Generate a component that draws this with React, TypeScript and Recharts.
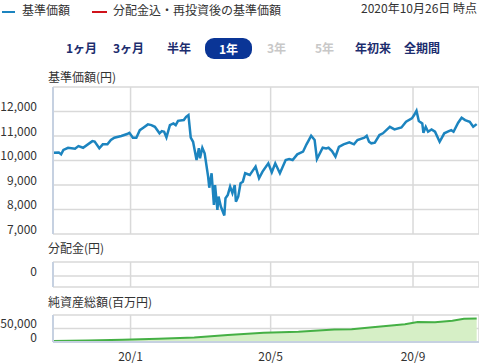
import { LineChart, Line, BarChart, Bar, AreaChart, Area, XAxis, YAxis, CartesianGrid } from 'recharts'

// 基準価額 (円)
const priceDates = [
  '2019-10-26', '2019-10-31', '2019-11-02', '2019-11-04', '2019-11-08', '2019-11-14', '2019-11-17', '2019-11-21',
  '2019-11-29', '2019-12-01', '2019-12-05', '2019-12-08', '2019-12-12', '2019-12-15', '2019-12-18', '2019-12-24',
  '2019-12-29', '2019-12-31', '2020-01-03', '2020-01-06', '2020-01-09', '2020-01-12', '2020-01-16', '2020-01-19',
  '2020-01-22', '2020-01-26', '2020-01-28', '2020-01-30', '2020-02-01', '2020-02-04', '2020-02-07', '2020-02-09',
  '2020-02-11', '2020-02-16', '2020-02-18', '2020-02-20', '2020-02-22', '2020-02-24', '2020-02-27', '2020-02-29',
  '2020-03-01', '2020-03-03', '2020-03-05', '2020-03-08', '2020-03-09', '2020-03-11', '2020-03-13', '2020-03-14',
  '2020-03-16', '2020-03-17', '2020-03-19', '2020-03-22', '2020-03-23', '2020-03-25', '2020-03-27', '2020-03-29',
  '2020-03-31', '2020-04-01', '2020-04-03', '2020-04-05', '2020-04-07', '2020-04-09', '2020-04-13', '2020-04-15',
  '2020-04-18', '2020-04-21', '2020-04-24', '2020-04-29', '2020-05-02', '2020-05-05', '2020-05-09', '2020-05-14',
  '2020-05-17', '2020-05-20', '2020-05-24', '2020-05-29', '2020-06-01', '2020-06-03', '2020-06-05', '2020-06-08',
  '2020-06-10', '2020-06-15', '2020-06-18', '2020-06-20', '2020-06-23', '2020-06-26', '2020-06-29', '2020-07-03',
  '2020-07-08', '2020-07-12', '2020-07-15', '2020-07-21', '2020-07-23', '2020-07-25', '2020-07-27', '2020-07-30',
  '2020-08-03', '2020-08-06', '2020-08-12', '2020-08-16', '2020-08-22', '2020-08-26', '2020-08-31', '2020-09-02',
  '2020-09-04', '2020-09-06', '2020-09-09', '2020-09-10', '2020-09-12', '2020-09-14', '2020-09-17', '2020-09-20',
  '2020-09-24', '2020-09-28', '2020-10-01', '2020-10-04', '2020-10-06', '2020-10-10', '2020-10-13', '2020-10-16',
  '2020-10-20', '2020-10-23', '2020-10-26',
]
const priceValues = [
  10320, 10330, 10250, 10430, 10520, 10480, 10590, 10520,
  10790, 10770, 10500, 10660, 10660, 10835, 10930, 11000,
  11080, 11130, 10930, 10930, 11240, 11340, 11475, 11445,
  11375, 11110, 11200, 11175, 10945, 11445, 11515, 11445,
  11620, 11650, 11785, 11855, 10930, 10765, 10020, 10500,
  10090, 10520, 10295, 9340, 8890, 9480, 8190, 9000,
  7985, 8525, 8120, 7755, 8460, 8595, 8935, 8665,
  9000, 8320, 8525, 9070, 9135, 9480, 9410, 9545,
  9750, 9275, 9545, 9885, 9520, 9885, 9480, 10020,
  10060, 10020, 10250, 10360, 10660, 10835, 11010, 10835,
  10060, 10520, 10495, 10520, 10385, 10155, 10560, 10660,
  10740, 10660, 10835, 10930, 11010, 10765, 10700, 10725,
  11040, 11110, 11375, 11270, 11350, 11580, 11720, 11855,
  12030, 11610, 11515, 11130, 11375, 11175, 11270, 11175,
  10765, 11110, 11175, 11240, 11175, 11540, 11745, 11650,
  11580, 11375, 11485,
]

// 分配金 (円)
const distDates = ['2019-10-26', '2020-10-26']
const distValues = [0, 0]

// 純資産総額 (百万円)
const assetDates = [
  '2019-10-26', '2019-11-25', '2019-12-25', '2020-01-25', '2020-02-25', '2020-03-25', '2020-04-25', '2020-05-25',
  '2020-06-25', '2020-07-10', '2020-07-28', '2020-08-25', '2020-09-05', '2020-09-20', '2020-10-05', '2020-10-15',
  '2020-10-26',
]
const assetValues = [
  4000, 5500, 8500, 12000, 17000, 26000, 34000, 38000,
  46000, 47000, 55000, 66000, 74000, 73000, 79000, 86000,
  87000,
]

const rangeStart = '2019-10-26'
const rangeEnd = '2020-10-28'
const monthTicks = ['2020-01-01', '2020-05-01', '2020-09-01']
const monthLabels = ['20/1', '20/5', '20/9']
const priceTicks = [7000, 8000, 9000, 10000, 11000, 12000, 13000]
const assetTicks = [0, 50000, 100000]
const periodLabels = ['1ヶ月', '3ヶ月', '半年', '1年', '3年', '5年', '年初来', '全期間']
const activePeriod = '1年'
const disabledPeriods = ['3年', '5年']

const FONT = '"Noto Sans CJK JP", "Noto Sans", sans-serif'
const GRID = '#d9d9d9'
const AXIS = '#c6d1e1'
const BLUE = '#1c84bf'
const periodX = [66, 113, 167, 205, 267, 315, 355, 404]

const ts = (s: string) => new Date(s + 'T00:00:00Z').getTime()
const domainX = [ts(rangeStart), ts(rangeEnd)]
const monthTs = monthTicks.map(ts)

const priceRows = priceDates.map((d, i) => ({ t: ts(d), v: priceValues[i] }))
const distRows = distDates.map((d, i) => ({ t: ts(d), v: distValues[i] }))
const assetRows = assetDates.map((d, i) => ({ t: ts(d), v: assetValues[i] }))

function ShiftTick(props: any) {
  const { x, y, payload, hideAbove } = props
  if (hideAbove !== undefined && payload.value > hideAbove) return <g />
  return (
    <text x={x} y={y - 6} textAnchor="end" dominantBaseline="central" fontSize={12} fill="#333" fontFamily={FONT}>
      {payload.value.toLocaleString('en-US')}
    </text>
  )
}

const label = (text: string, top: number) => (
  <div style={{ position: 'absolute', left: 48, top, fontSize: 12, lineHeight: '14px', color: '#333' }}>{text}</div>
)

export default function App() {
  return (
    <div style={{ position: 'absolute', left: 0, top: 0, width: 479, height: 363, background: '#fff', fontFamily: FONT, overflow: 'hidden' }}>
      <div style={{ position: 'absolute', left: 2, top: 11, width: 13, height: 2, background: BLUE }} />
      <div style={{ position: 'absolute', left: 22, top: 3, fontSize: 12, lineHeight: '14px', color: '#333' }}>基準価額</div>
      <div style={{ position: 'absolute', left: 92, top: 11, width: 15, height: 2, background: '#d0121b' }} />
      <div style={{ position: 'absolute', left: 113, top: 3, fontSize: 12, lineHeight: '14px', color: '#333' }}>分配金込・再投資後の基準価額</div>
      <div style={{ position: 'absolute', right: 2, top: 1, fontSize: 12, lineHeight: '14px', color: '#333' }}>2020年10月26日 時点</div>

      {periodLabels.map((p, i) => {
        const active = p === activePeriod
        const disabled = disabledPeriods.includes(p)
        return (
          <div
            key={p}
            style={{
              position: 'absolute', left: periodX[i], top: active ? 38 : 41, fontSize: 12, fontWeight: 700,
              lineHeight: active ? '21px' : '14px', padding: active ? '0 14px' : 0, borderRadius: 9,
              background: active ? '#0a3596' : 'transparent',
              color: active ? '#fff' : disabled ? '#c8c8c8' : '#1c2d6e',
            }}
          >
            {p}
          </div>
        )
      })}

      {label('基準価額(円)', 70)}
      <div style={{ position: 'absolute', left: 0, top: 80 }}>
        <LineChart width={479} height={160} data={priceRows} margin={{ top: 7, right: 0, bottom: 6, left: 0 }}>
          <CartesianGrid stroke={GRID} strokeWidth={1.5} />
          <XAxis dataKey="t" type="number" domain={domainX} ticks={monthTs} interval={0} hide />
          <YAxis
            type="number" domain={[7000, 13000]} ticks={priceTicks} interval={0} width={53}
            axisLine={{ stroke: AXIS, strokeWidth: 2 }} tickLine={false} tickMargin={10}
            tick={<ShiftTick hideAbove={12000} />}
          />
          <Line type="linear" dataKey="v" stroke={BLUE} strokeWidth={2.5} dot={false} isAnimationActive={false} />
        </LineChart>
      </div>

      {label('分配金(円)', 241)}
      <div style={{ position: 'absolute', left: 0, top: 255 }}>
        <BarChart width={479} height={40} data={distRows} margin={{ top: 7, right: 0, bottom: 8, left: 0 }}>
          <CartesianGrid stroke={GRID} strokeWidth={1.5} />
          <XAxis dataKey="t" type="number" domain={domainX} ticks={monthTs} interval={0} hide />
          <YAxis
            type="number" domain={[-11, 14]} ticks={[0]} interval={0} width={53}
            axisLine={{ stroke: AXIS, strokeWidth: 2 }} tickLine={false} tickMargin={10}
            tick={<ShiftTick />}
          />
          <Bar dataKey="v" fill="#d0121b" barSize={4} isAnimationActive={false} />
        </BarChart>
      </div>

      {label('純資産総額(百万円)', 295)}
      <div style={{ position: 'absolute', left: 0, top: 308 }}>
        <AreaChart width={479} height={55} data={assetRows} margin={{ top: 7, right: 0, bottom: 0, left: 0 }}>
          <CartesianGrid stroke={GRID} strokeWidth={1.5} />
          <XAxis
            dataKey="t" type="number" domain={domainX} ticks={monthTs} interval={0} height={21}
            axisLine={{ stroke: AXIS, strokeWidth: 2 }} tickLine={false} tickMargin={4}
            tick={{ fontSize: 12, fill: '#333', fontFamily: FONT }}
            tickFormatter={(v: number) => monthLabels[monthTs.indexOf(v)]}
          />
          <YAxis
            type="number" domain={[0, 100000]} ticks={assetTicks} interval={0} width={53}
            axisLine={{ stroke: AXIS, strokeWidth: 2 }} tickLine={false} tickMargin={10}
            tick={<ShiftTick hideAbove={50000} />}
          />
          <Area type="linear" dataKey="v" stroke="#45b045" strokeWidth={2} fill="#d6efc6" fillOpacity={1} isAnimationActive={false} />
        </AreaChart>
      </div>
    </div>
  )
}
